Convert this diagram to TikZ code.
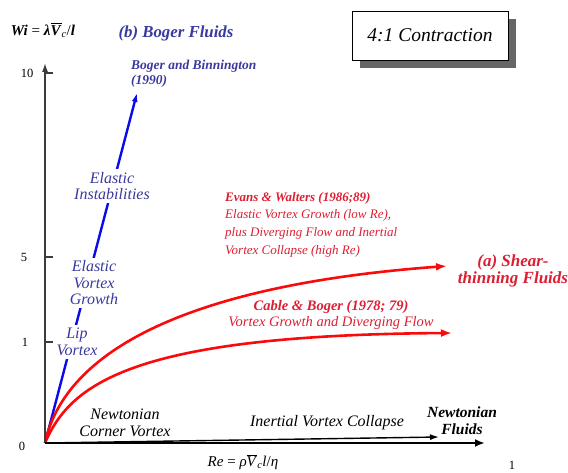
\documentclass[tikz,border=0pt]{standalone}
\usepackage{fontspec}
\usepackage{amsmath}
\setmainfont{Liberation Serif}
\usetikzlibrary{arrows.meta,shadows}
\definecolor{bltext}{RGB}{58,58,158}
\definecolor{blline}{RGB}{10,10,235}
\definecolor{rdline}{RGB}{250,10,10}
\definecolor{rdtext}{RGB}{220,30,50}
\definecolor{axgray}{RGB}{60,60,60}
\tikzset{
  lbl/.style={font=\fontsize{16}{16.5}\selectfont\itshape, align=center, inner sep=1pt},
  bluelbl/.style={lbl, text=bltext, fill=white, inner sep=3pt},
  ticklbl/.style={font=\fontsize{12.5}{13}\selectfont, inner sep=0pt},
  tickline/.style={axgray, line width=1.2pt},
  yaxis/.style={axgray, line width=1.5pt, -{Latex[length=9pt,width=6pt]}},
  xaxis/.style={black, line width=2.4pt, -{Latex[length=10pt,width=8pt]}},
  inert/.style={black, line width=1.4pt, -{Latex[length=9pt,width=6pt]}},
  blueline/.style={blline, line width=2.4pt, -{Latex[length=9pt,width=6pt]}},
  redline/.style={rdline, line width=2.6pt, -{Latex[length=11pt,width=8pt]}},
}
\begin{document}
\begin{tikzpicture}[x=1pt,y=-1pt]
\useasboundingbox (0,0) rectangle (568,473);
% key points
\coordinate (O) at (45,443);
\coordinate (ytop) at (45,63);
\coordinate (xend) at (485,443);
\coordinate (inend) at (439,437);
\coordinate (bend) at (137,93);
\coordinate (uend) at (447,266);
\coordinate (lend) at (452,333);
% blue Boger line and labels
\draw[blueline] (O) -- (bend);
\node[bluelbl] (inst) at (112,186) {Elastic\\Instabilities};
\node[bluelbl] (evg) at (94,283) {Elastic\\Vortex\\Growth};
\node[bluelbl] (lip) at (77,342) {Lip\\Vortex};
% red shear-thinning curves
\draw[redline] (O) .. controls (65,350) and (190,285) .. (uend);
\draw[redline] (O) .. controls (70,385) and (130,335) .. (lend);
% axes
\draw[yaxis] (O) -- (ytop);
\draw[xaxis] (O) -- (xend);
\draw[inert] (O) -- (inend);
\coordinate (t10) at (45,73);
\coordinate (t5) at (45,257);
\coordinate (t1) at (45,342);
\draw[tickline] (t10) -- ++(8,0);
\draw[tickline] (t5) -- ++(8,0);
\draw[tickline] (t1) -- ++(8,0);
\node[ticklbl] (l10) at (27,73) {10};
\node[ticklbl] (l5) at (24,257) {5};
\node[ticklbl] (l1) at (25,342) {1};
\node[ticklbl] (l0) at (22,446) {0};
\node[ticklbl] (lx1) at (512,465) {1};
% axis titles
\node[inner sep=0pt, font=\fontsize{15}{16}\selectfont] (wi) at (43,30)
  {\textit{\textbf{Wi}} = \textit{\textbf{λ}}$\overline{\text{\textit{\textbf{V}}}}_{\text{\textit{c}}}$/\textit{\textbf{l}}};
\node[inner sep=0pt, font=\fontsize{15}{16}\selectfont] (re) at (243,462)
  {\textit{Re} = \textit{ρ}$\overline{\text{\textit{V}}}_{\text{\textit{c}}}$\textit{l}/\textit{η}};
% Boger labels
\node[inner sep=0pt, text=bltext, font=\fontsize{16.8}{18}\selectfont\bfseries\itshape] (bog) at (176,33) {(b) Boger Fluids};
\node[inner sep=0pt, anchor=west, align=left, text=bltext, font=\fontsize{13.5}{15}\selectfont\bfseries\itshape] (bb) at (131,74) {Boger and Binnington\\(1990)};
% red labels
\node[inner sep=0pt, anchor=north west, align=left, text=rdtext, font=\fontsize{13}{17.7}\selectfont\itshape] (ew) at (225,192)
  {\textbf{Evans \& Walters (1986;89)}\\Elastic Vortex Growth (low Re),\\plus Diverging Flow and Inertial\\Vortex Collapse (high Re)};
\node[inner sep=0pt, align=center, text=rdtext, font=\fontsize{17}{17}\selectfont\bfseries\itshape] (shear) at (513,271) {(a) Shear-\\thinning Fluids};
\node[inner sep=0pt, align=center, text=rdtext, font=\fontsize{14.5}{15.5}\selectfont\itshape] (cb) at (331,315)
  {\textbf{Cable \& Boger (1978; 79)}\\Vortex Growth and Diverging Flow};
% Newtonian labels
\node[lbl] (ncv) at (125,423) {Newtonian\\Corner Vortex};
\node[lbl] (ivc) at (327,423) {Inertial Vortex Collapse};
\node[lbl, font=\fontsize{15.5}{17}\selectfont\bfseries\itshape] (nf) at (462,421) {Newtonian\\Fluids};
% title box
\node[draw=black, line width=0.8pt, fill=white, minimum width=156, minimum height=49,
  font=\fontsize{19.5}{20}\selectfont\itshape,
  drop shadow={shadow xshift=8pt, shadow yshift=-8pt, fill=black!60, opacity=1}] (box) at (430,35.5) {4:1 Contraction};
\end{tikzpicture}
\end{document}
